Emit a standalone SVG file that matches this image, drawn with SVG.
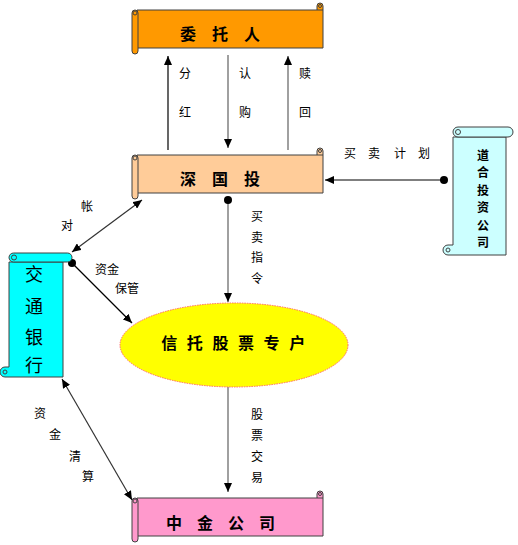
<svg xmlns="http://www.w3.org/2000/svg" xmlns:xlink="http://www.w3.org/1999/xlink" width="518" height="545" viewBox="0 0 518 545">
<style>
.node{font-family:"Noto Sans CJK SC","Noto Sans",sans-serif;font-weight:bold;font-size:16px;fill:#000;text-anchor:middle;dominant-baseline:central}
.vtext{font-family:"Noto Sans CJK SC","Noto Sans",sans-serif;fill:#000;text-anchor:middle;dominant-baseline:central}
.dh{font-size:12px;font-weight:bold}
.lbl{font-family:"Noto Sans CJK SC","Noto Sans",sans-serif;font-size:12px;fill:#000;text-anchor:middle;dominant-baseline:central}
.sc{stroke:#404040;stroke-width:1}
.ln{fill:none;stroke:#000;stroke-width:1.2}
.gr{fill:none;stroke:#808080;stroke-width:1.5}
.dk{fill:none;stroke:#333;stroke-width:1.2}
</style>
<defs>
<marker id="ah" markerWidth="9" markerHeight="8" refX="9" refY="4" orient="auto-start-reverse" markerUnits="userSpaceOnUse">
<path d="M0,0 L9,4 L0,8 Z" fill="#000"/>
</marker>
<g id="hscroll" class="sc">
<path d="M0,0 H180 V-4 A3,3 0 0 1 186,-4 V38 H0 Z"/>
<path d="M180,0 H186" fill="none"/>
<circle cx="183" cy="-4" r="1.5" fill="none"/>
<rect x="-5" y="0" width="6" height="44" rx="3"/>
<circle cx="-2" cy="3" r="2" fill="none"/>
</g>
</defs>

<g id="connectors">
<line class="ln" x1="168" y1="150" x2="168" y2="56" marker-end="url(#ah)"/>
<line class="gr" x1="228" y1="55" x2="228" y2="148" marker-end="url(#ah)"/>
<line class="gr" x1="288" y1="150" x2="288" y2="56" marker-end="url(#ah)"/>
<line class="ln" x1="444" y1="180" x2="325" y2="180" marker-end="url(#ah)"/>
<circle cx="444" cy="180" r="4" fill="#000"/>
<line class="dk" x1="142" y1="200" x2="72" y2="252" marker-start="url(#ah)" marker-end="url(#ah)"/>
<line class="ln" x1="72" y1="263" x2="132" y2="323" marker-end="url(#ah)"/>
<circle cx="72" cy="263" r="4" fill="#000"/>
<line class="gr" x1="228" y1="200" x2="228" y2="302" marker-end="url(#ah)"/>
<circle cx="228" cy="200" r="4" fill="#000"/>
<line class="gr" x1="228" y1="387" x2="228" y2="492" marker-end="url(#ah)"/>
<line class="dk" x1="62" y1="379" x2="132" y2="500" marker-start="url(#ah)" marker-end="url(#ah)"/>
<text class="lbl" x="185" y="72">分</text>
<text class="lbl" x="185" y="111">红</text>
<text class="lbl" x="245" y="72">认</text>
<text class="lbl" x="245" y="111">购</text>
<text class="lbl" x="305" y="72">赎</text>
<text class="lbl" x="305" y="111">回</text>
<text class="lbl" x="350" y="152">买</text>
<text class="lbl" x="374" y="152">卖</text>
<text class="lbl" x="400" y="152">计</text>
<text class="lbl" x="424" y="152">划</text>
<text class="lbl" x="87" y="205">帐</text>
<text class="lbl" x="67" y="224">对</text>
<text class="lbl" x="107" y="268">资金</text>
<text class="lbl" x="127" y="287">保管</text>
<text class="lbl" x="257" y="215">买</text>
<text class="lbl" x="257" y="236">卖</text>
<text class="lbl" x="257" y="256">指</text>
<text class="lbl" x="257" y="277">令</text>
<text class="lbl" x="257" y="413">股</text>
<text class="lbl" x="257" y="434">票</text>
<text class="lbl" x="257" y="455">交</text>
<text class="lbl" x="257" y="476">易</text>
<text class="lbl" x="40" y="412">资</text>
<text class="lbl" x="55" y="433">金</text>
<text class="lbl" x="75" y="455">清</text>
<text class="lbl" x="88" y="475">算</text>
</g>

<g id="weituoren">
<use xlink:href="#hscroll" href="#hscroll" transform="translate(137,10)" fill="#FF9900"/>
<text class="node" x="228" y="33" letter-spacing="16">委托人</text>
</g>

<g id="shenguotou">
<use xlink:href="#hscroll" href="#hscroll" transform="translate(137,155)" fill="#FFCC99"/>
<text class="node" x="228" y="178" letter-spacing="16">深国投</text>
</g>

<g id="zhongjin">
<use xlink:href="#hscroll" href="#hscroll" transform="translate(137,498)" fill="#FF99CC"/>
<text class="node" x="228" y="522" letter-spacing="15">中金公司</text>
</g>

<g id="daohe">
<path class="sc" fill="#CCFFFF" d="M453,137 H506 V255 H448 A5,5 0 0 1 448,245 H453 Z"/>
<circle class="sc" cx="448" cy="250" r="2" fill="none"/>
<rect class="sc" fill="#CCFFFF" x="453" y="127" width="60" height="10" rx="5"/>
<circle class="sc" cx="458" cy="132" r="2.5" fill="none"/>
<text class="vtext dh" x="483" y="154">道</text>
<text class="vtext dh" x="483" y="171.5">合</text>
<text class="vtext dh" x="483" y="189">投</text>
<text class="vtext dh" x="483" y="206.5">资</text>
<text class="vtext dh" x="483" y="224">公</text>
<text class="vtext dh" x="483" y="241.5">司</text>
</g>

<g id="jiaotong">
<path class="sc" fill="#00FFFF" d="M9,262 H63 V377 H5 A5,5 0 0 1 5,367 H9 Z"/>
<circle class="sc" cx="5" cy="372" r="2" fill="none"/>
<rect class="sc" fill="#00FFFF" x="9" y="253" width="63" height="9" rx="4.5"/>
<circle class="sc" cx="14" cy="257.5" r="2.5" fill="none"/>
<text class="vtext" font-size="18" x="34" y="273">交</text>
<text class="vtext" font-size="18" x="34" y="305">通</text>
<text class="vtext" font-size="18" x="34" y="336">银</text>
<text class="vtext" font-size="18" x="34" y="364">行</text>
</g>

<g id="xintuo">
<ellipse cx="234" cy="345" rx="114" ry="42" fill="#FFFF00" stroke="#FF6666" stroke-width="1" stroke-dasharray="1.5,1"/>
<text class="node" x="238" y="342" letter-spacing="9.6">信托股票专户</text>
</g>
</svg>
